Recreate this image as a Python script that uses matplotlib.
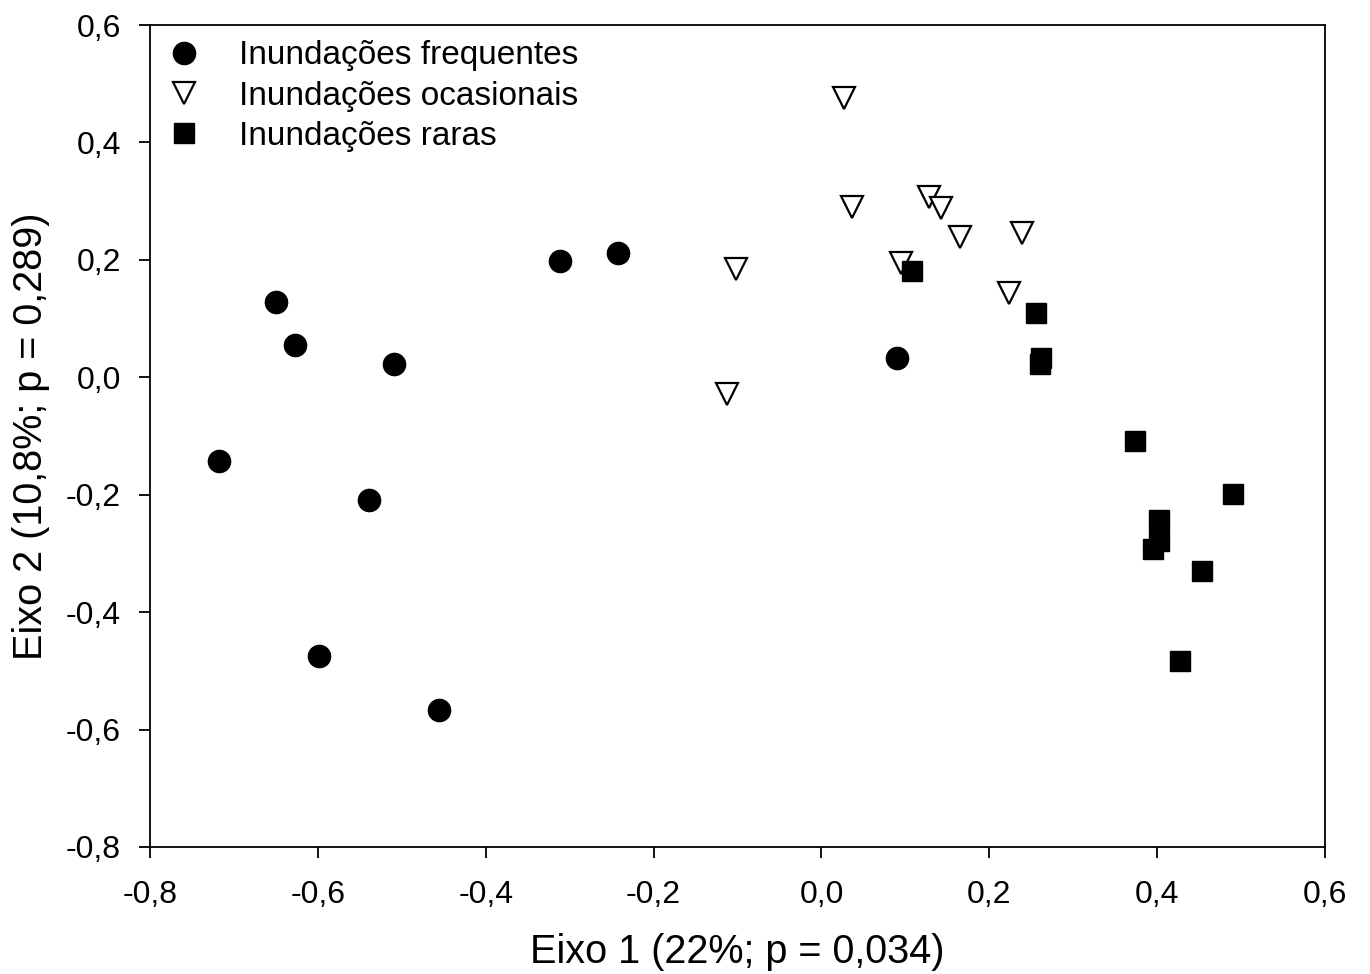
import matplotlib
matplotlib.use("Agg")
import matplotlib.pyplot as plt
import numpy as np

plt.rcParams['font.family'] = ['Liberation Sans', 'DejaVu Sans']

freq_x = [-0.718, -0.650, -0.627, -0.509, -0.539, -0.599, -0.456, -0.311, -0.242, 0.090]
freq_y = [-0.143, 0.128, 0.055, 0.023, -0.209, -0.475, -0.567, 0.198, 0.212, 0.033]

ocas_x = [0.027, 0.036, 0.128, 0.142, 0.165, 0.239, 0.095, 0.223, -0.102, -0.113]
ocas_y = [0.476, 0.290, 0.307, 0.288, 0.239, 0.246, 0.195, 0.144, 0.184, -0.029]

rar_x = [0.108, 0.256, 0.262, 0.260, 0.374, 0.490, 0.402, 0.402, 0.395, 0.453, 0.427]
rar_y = [0.181, 0.109, 0.033, 0.022, -0.109, -0.199, -0.243, -0.279, -0.293, -0.330, -0.483]

labels = ['Inundações frequentes', 'Inundações ocasionais', 'Inundações raras']
xticks = [-0.8, -0.6, -0.4, -0.2, 0.0, 0.2, 0.4, 0.6]
yticks = [-0.8, -0.6, -0.4, -0.2, 0.0, 0.2, 0.4, 0.6]

fig = plt.figure(figsize=(13.7, 9.74), dpi=100)
ax = fig.add_axes([0.1095, 0.1304, 0.8577, 0.8439])

ax.plot(freq_x, freq_y, 'o', ms=16, color='black', label=labels[0], zorder=3)
ax.plot(ocas_x, ocas_y, 'v', ms=16, mfc='white', mec='black', mew=1.6, label=labels[1], zorder=3)
ax.plot(rar_x, rar_y, 's', ms=14, color='black', label=labels[2], zorder=4)

ax.set_xlim(-0.8, 0.6)
ax.set_ylim(-0.8, 0.6)
ax.set_xticks(xticks)
ax.set_yticks(yticks)
fmt = lambda v: f"{v:.1f}".replace('.', ',').replace('-0,0', '0,0')
ax.set_xticklabels([fmt(v) for v in xticks])
ax.set_yticklabels([fmt(v) for v in yticks])
ax.tick_params(direction='out', length=8, width=1.3, labelsize=23)
ax.tick_params(axis='x', pad=16)
ax.tick_params(axis='y', pad=13)
for s in ax.spines.values():
    s.set_linewidth(1.3)

ax.set_xlabel('Eixo 1 (22%; p = 0,034)', fontsize=28.5, labelpad=16)
ax.set_ylabel('Eixo 2 (10,8%; p = 0,289)', fontsize=28.5, labelpad=11)

leg = ax.legend(loc='upper left', frameon=False, fontsize=24, handlelength=1.0,
                handletextpad=1.17, labelspacing=0.28, borderaxespad=0, borderpad=0,
                bbox_to_anchor=(0.0145, 0.9815))

fig.savefig('out.png', dpi=100)
